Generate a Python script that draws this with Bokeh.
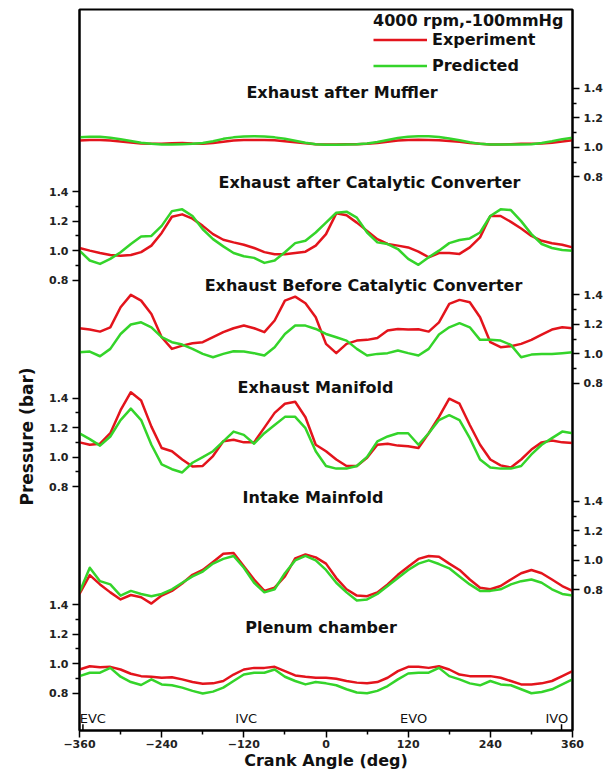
import math
from bokeh.plotting import figure
from bokeh.models import Range1d, LinearAxis, FixedTicker, Legend, LegendItem, Title
from bokeh.core.properties import value
from bokeh.embed import file_html
from bokeh.resources import INLINE

# ---------------- data ----------------
crank_angle = list(range(-360, 361, 15))

muffler_exp = [1.046, 1.050, 1.050, 1.046, 1.040, 1.033, 1.027, 1.024, 1.025, 1.028,
               1.030, 1.026, 1.025, 1.030, 1.038, 1.046, 1.050, 1.050, 1.050, 1.048,
               1.042, 1.035, 1.028, 1.022, 1.020, 1.020, 1.022, 1.022, 1.025, 1.030,
               1.038, 1.046, 1.050, 1.052, 1.050, 1.048, 1.044, 1.038, 1.030, 1.024,
               1.020, 1.020, 1.022, 1.024, 1.024, 1.026, 1.032, 1.040, 1.048]
muffler_pred = [1.068, 1.072, 1.072, 1.066, 1.055, 1.043, 1.032, 1.024, 1.020, 1.020,
                1.022, 1.024, 1.030, 1.042, 1.058, 1.068, 1.074, 1.075, 1.074, 1.068,
                1.058, 1.045, 1.032, 1.022, 1.018, 1.018, 1.020, 1.022, 1.026, 1.036,
                1.050, 1.064, 1.072, 1.075, 1.075, 1.070, 1.060, 1.048, 1.035, 1.024,
                1.020, 1.020, 1.020, 1.020, 1.022, 1.030, 1.042, 1.056, 1.066]

after_cat_exp = [1.018, 1.0, 0.984, 0.97, 0.966, 0.97, 0.99, 1.034, 1.12, 1.23,
                 1.246, 1.217, 1.168, 1.112, 1.074, 1.056, 1.04, 1.018, 0.99, 0.975,
                 0.975, 0.984, 0.993, 1.034, 1.112, 1.253, 1.24, 1.19, 1.134, 1.078,
                 1.045, 1.034, 1.022, 0.993, 0.955, 0.984, 0.984, 0.978, 1.022, 1.09,
                 1.235, 1.235, 1.195, 1.15, 1.1, 1.067, 1.05, 1.04, 1.022]
after_cat_pred = [1.0, 0.933, 0.91, 0.944, 0.989, 1.045, 1.096, 1.1, 1.168, 1.268,
                  1.28, 1.235, 1.145, 1.078, 1.029, 0.984, 0.962, 0.951, 0.917, 0.933,
                  0.989, 1.051, 1.067, 1.123, 1.19, 1.257, 1.264, 1.224, 1.123, 1.056,
                  1.045, 1.011, 0.944, 0.904, 0.955, 1.0, 1.051, 1.072, 1.083, 1.123,
                  1.235, 1.28, 1.275, 1.2, 1.112, 1.045, 1.018, 1.004, 1.0]

before_cat_exp = [1.174, 1.165, 1.151, 1.18, 1.316, 1.4, 1.361, 1.271, 1.113, 1.034,
                  1.056, 1.072, 1.079, 1.113, 1.147, 1.174, 1.192, 1.174, 1.147, 1.226,
                  1.361, 1.388, 1.343, 1.248, 1.068, 1.005, 1.068, 1.09, 1.095, 1.108,
                  1.158, 1.169, 1.165, 1.167, 1.151, 1.214, 1.339, 1.366, 1.35, 1.248,
                  1.079, 1.045, 1.052, 1.068, 1.095, 1.131, 1.165, 1.18, 1.174]
before_cat_pred = [1.011, 1.016, 0.984, 1.034, 1.135, 1.199, 1.214, 1.18, 1.113, 1.079,
                   1.063, 1.034, 1.0, 0.977, 1.0, 1.018, 1.016, 1.005, 0.989, 1.045,
                   1.135, 1.192, 1.192, 1.169, 1.135, 1.113, 1.09, 1.034, 0.989, 1.0,
                   1.005, 1.023, 1.005, 0.989, 1.034, 1.131, 1.18, 1.208, 1.18, 1.095,
                   1.095, 1.09, 1.061, 0.977, 0.995, 1.0, 1.0, 1.005, 1.011]

manifold_exp = [1.1, 1.084, 1.091, 1.162, 1.318, 1.44, 1.384, 1.207, 1.062, 1.04,
                0.984, 0.936, 0.94, 1.007, 1.107, 1.118, 1.1, 1.1, 1.2, 1.3,
                1.362, 1.375, 1.27, 1.084, 1.04, 0.984, 0.94, 0.94, 0.996, 1.084,
                1.091, 1.078, 1.073, 1.062, 1.162, 1.273, 1.396, 1.362, 1.218, 1.084,
                0.984, 0.944, 0.929, 0.984, 1.051, 1.1, 1.113, 1.1, 1.096]
manifold_pred = [1.162, 1.122, 1.078, 1.14, 1.251, 1.329, 1.251, 1.084, 0.951, 0.918,
                 0.896, 0.962, 1.0, 1.04, 1.107, 1.173, 1.151, 1.091, 1.162, 1.218,
                 1.273, 1.273, 1.196, 1.04, 0.94, 0.922, 0.922, 0.94, 1.002, 1.107,
                 1.14, 1.162, 1.162, 1.084, 1.162, 1.251, 1.284, 1.251, 1.129, 0.984,
                 0.929, 0.922, 0.922, 0.94, 1.018, 1.084, 1.129, 1.173, 1.162]

intake_exp = [0.772, 0.9, 0.837, 0.783, 0.735, 0.765, 0.75, 0.707, 0.761, 0.793,
              0.843, 0.902, 0.935, 0.989, 1.045, 1.05, 0.96, 0.87, 0.793, 0.815,
              0.891, 1.013, 1.04, 1.02, 0.978, 0.88, 0.804, 0.761, 0.757, 0.783,
              0.837, 0.902, 0.957, 1.01, 1.03, 1.025, 0.978, 0.935, 0.87, 0.815,
              0.804, 0.826, 0.87, 0.913, 0.935, 0.913, 0.87, 0.826, 0.793]
intake_pred = [0.783, 0.95, 0.859, 0.837, 0.761, 0.793, 0.772, 0.757, 0.772, 0.804,
               0.848, 0.891, 0.924, 0.978, 1.01, 1.03, 0.95, 0.848, 0.783, 0.804,
               0.913, 1.0, 1.03, 1.0, 0.935, 0.848, 0.783, 0.728, 0.735, 0.772,
               0.826, 0.88, 0.935, 0.978, 1.0, 0.975, 0.946, 0.891, 0.837, 0.793,
               0.793, 0.804, 0.837, 0.859, 0.87, 0.848, 0.804, 0.772, 0.761]

plenum_exp = [0.96, 0.982, 0.975, 0.978, 0.96, 0.931, 0.915, 0.911, 0.904, 0.908,
              0.893, 0.875, 0.864, 0.866, 0.882, 0.926, 0.96, 0.971, 0.971, 0.978,
              0.949, 0.92, 0.911, 0.904, 0.904, 0.897, 0.882, 0.871, 0.866, 0.875,
              0.904, 0.949, 0.978, 0.978, 0.971, 0.982, 0.96, 0.926, 0.915, 0.915,
              0.915, 0.904, 0.882, 0.859, 0.859, 0.866, 0.882, 0.915, 0.949]
plenum_pred = [0.915, 0.938, 0.938, 0.971, 0.911, 0.875, 0.855, 0.893, 0.859, 0.853,
               0.837, 0.815, 0.797, 0.81, 0.837, 0.882, 0.926, 0.938, 0.938, 0.96,
               0.911, 0.882, 0.859, 0.875, 0.866, 0.853, 0.826, 0.804, 0.799, 0.815,
               0.848, 0.893, 0.933, 0.938, 0.938, 0.971, 0.915, 0.893, 0.866, 0.853,
               0.882, 0.859, 0.853, 0.826, 0.799, 0.808, 0.826, 0.859, 0.893]

panel_names = ["Exhaust after Muffler", "Exhaust after Catalytic Converter",
               "Exhaust Before Catalytic Converter", "Exhaust Manifold",
               "Intake Mainfold", "Plenum chamber"]
panel_exp = [muffler_exp, after_cat_exp, before_cat_exp, manifold_exp, intake_exp, plenum_exp]
panel_pred = [muffler_pred, after_cat_pred, before_cat_pred, manifold_pred, intake_pred, plenum_pred]
panel_axis_side = ["right", "left", "right", "left", "right", "left"]

y_tick_values = [0.8, 1.0, 1.2, 1.4]
y_minor_values = [0.9, 1.1, 1.3]
x_ticks = [-360, -240, -120, 0, 120, 240, 360]
x_minor = [-300, -180, -60, 60, 180, 300]

event_names = ["EVC", "IVC", "EVO", "IVO"]
event_marks = [-355, 344]

# ---------------- layout constants ----------------
STEP = 7            # vertical shift between panels, in 0.1 bar
NP = len(panel_names)
Y0, Y1 = 5.464, 54.35

def stack(v, k):
    return 10.0 * v + STEP * (NP - 1 - k)

title_x = [23.4, 63.5, 54.8, -15.3, -19.0, -7.3]
title_v = [1.373, 1.463, 1.466, 1.469, 1.424, 1.244]
event_label_x = [-340.5, -116.5, 128, 337]

RED = "#e3141c"
GREEN = "#34d42a"
FONT = "DejaVu Sans"

p = figure(width=612, height=772, x_range=Range1d(-360, 360), y_range=Range1d(Y0, Y1),
           output_backend="svg", toolbar_location=None, y_axis_location=None,
           min_border_left=79, min_border_right=40, min_border_top=9, min_border_bottom=41)
p.grid.visible = False
p.outline_line_color = "black"
p.outline_line_width = 2
p.background_fill_color = "white"

# x axis
xa = p.xaxis[0]
xa.ticker = FixedTicker(ticks=x_ticks, minor_ticks=x_minor)
xa.axis_line_width = 2
xa.major_tick_line_width = 1.5
xa.minor_tick_line_width = 1.5
xa.major_tick_in = 0
xa.major_tick_out = 7
xa.minor_tick_in = 0
xa.minor_tick_out = 4
xa.major_label_standoff = 2
xa.major_label_text_font = FONT
xa.major_label_text_font_style = "bold"
xa.major_label_text_font_size = "11px"
xa.major_label_text_color = "#222222"
xa.axis_label = "Crank Angle (deg)"
xa.axis_label_standoff = 0
xa.axis_label_text_font = FONT
xa.axis_label_text_font_style = "bold"
xa.axis_label_text_font_size = "16px"
xa.axis_label_text_color = "#111111"

# y axes (one left, one right, each carrying three panels)
for side in ["left", "right"]:
    ticks, minors, overrides = [], [], {}
    for k in range(NP):
        if panel_axis_side[k] != side:
            continue
        for t in y_tick_values:
            pos = int(round(stack(t, k)))
            ticks.append(pos)
            overrides[pos] = "%.1f" % t
        for t in y_minor_values:
            minors.append(int(round(stack(t, k))))
    ax = LinearAxis(ticker=FixedTicker(ticks=ticks, minor_ticks=minors))
    ax.major_label_overrides = overrides
    ax.axis_line_width = 2
    ax.major_tick_line_width = 1.5
    ax.minor_tick_line_width = 1.5
    ax.major_tick_in = 0
    ax.major_tick_out = 7
    ax.minor_tick_in = 0
    ax.minor_tick_out = 4
    ax.major_label_standoff = 4
    ax.major_label_text_font = FONT
    ax.major_label_text_font_style = "bold"
    ax.major_label_text_font_size = "11px"
    ax.major_label_text_color = "#222222"
    p.add_layout(ax, side)

# y axis title, placed as a side title so it can sit below the middle
p.add_layout(Title(text="Pressure (bar)", align="left", offset=225, standoff=20,
                   text_font=FONT, text_font_style="bold", text_font_size="17px",
                   text_color="#111111"), "left")

# curves
legend_renderers = []
for k in range(NP):
    ye = [stack(v, k) for v in panel_exp[k]]
    yp = [stack(v, k) for v in panel_pred[k]]
    r1 = p.line(crank_angle, ye, line_color=RED, line_width=2.5, line_join="round")
    r2 = p.line(crank_angle, yp, line_color=GREEN, line_width=2.5, line_join="round")
    if k == 0:
        legend_renderers = [r1, r2]

# panel titles
p.text(x=title_x, y=[stack(v, k) for k, v in enumerate(title_v)], text=panel_names,
       text_font=value(FONT), text_font_style="bold", text_font_size="16px",
       text_align="center", text_baseline="middle", text_color="#111111")

# valve events
p.text(x=event_label_x, y=[6.28] * len(event_names), text=event_names,
       text_font=value(FONT), text_font_size="13px",
       text_align="center", text_baseline="middle", text_color="#111111")
p.segment(x0=event_marks, y0=[Y0] * len(event_marks), x1=event_marks,
          y1=[Y0 + 0.42] * len(event_marks), line_color="black", line_width=1.5)

# legend
legend = Legend(items=[LegendItem(label="Experiment", renderers=[legend_renderers[0]]),
                       LegendItem(label="Predicted", renderers=[legend_renderers[1]])],
                location="top_right", title="4000 rpm,-100mmHg")
legend.title_text_font = FONT
legend.title_text_font_style = "bold"
legend.title_text_font_size = "16px"
legend.title_text_color = "#111111"
legend.title_standoff = 0
legend.label_text_font = FONT
legend.label_text_font_style = "bold"
legend.label_text_font_size = "16px"
legend.label_text_color = "#111111"
legend.glyph_width = 54
legend.glyph_height = 15
legend.label_height = 15
legend.label_width = 138
legend.spacing = 7
legend.label_standoff = 5
legend.padding = 2
legend.margin = 0
legend.background_fill_alpha = 0
legend.border_line_alpha = 0
p.add_layout(legend)

open("out.html", "w").write(file_html(p, INLINE))
